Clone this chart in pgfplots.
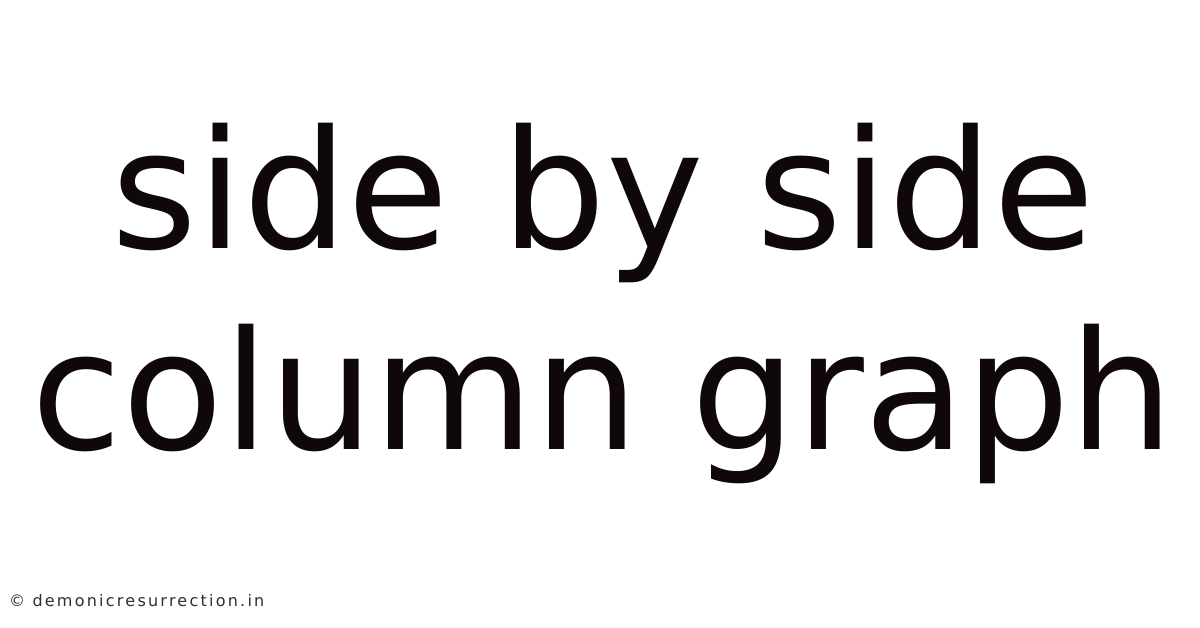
\documentclass[border=0pt]{standalone}
\usepackage{fontspec}
\setmainfont{DejaVu Sans}
\newfontfamily\footfont[LetterSpace=14]{DejaVu Sans}
\usepackage{pgfplots}
\pgfplotsset{compat=1.18}
\definecolor{ink}{RGB}{16,8,8}

\begin{document}
\begin{tikzpicture}
  \path[use as bounding box, fill=white] (0,0) rectangle (1200pt,628pt);
  \begin{axis}[
      at={(0,0)}, anchor=south west,
      width=1200pt, height=628pt, scale only axis,
      hide axis,
      xmin=0, xmax=1200, ymin=0, ymax=628,
      clip=false,
    ]
    % title lines, baselines
    \node[anchor=base, inner sep=0, text=ink,
          font=\fontsize{165}{200}\selectfont] at (axis cs:603,379) {side by side};
    \node[anchor=base, inner sep=0, text=ink,
          font=\fontsize{165}{200}\selectfont] at (axis cs:603,178) {column graph};
    % footer
    \node[anchor=base west, inner sep=0, text=ink!85,
          font=\footfont\fontsize{16}{20}\selectfont] at (axis cs:9,21) {© demonicresurrection.in};
  \end{axis}
\end{tikzpicture}
\end{document}
